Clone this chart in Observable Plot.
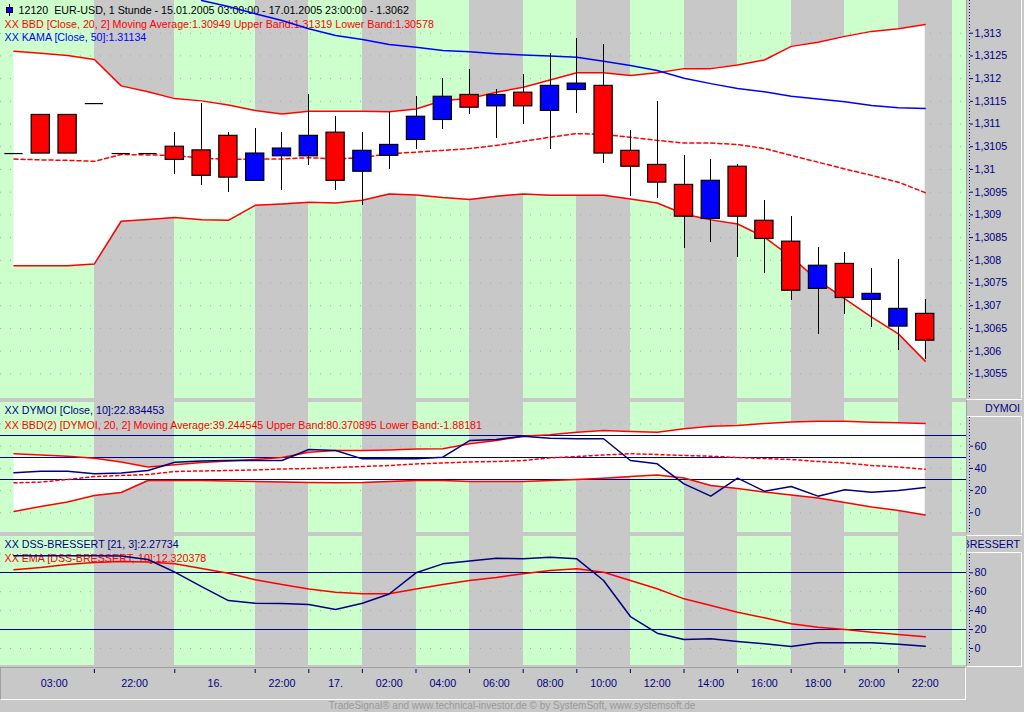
<!DOCTYPE html>
<html><head><meta charset="utf-8">
<script src="https://cdn.jsdelivr.net/npm/d3@7"></script>
<script src="https://cdn.jsdelivr.net/npm/@observablehq/plot@0.6"></script>
<style>
html,body{margin:0;padding:0;background:#c8c8c8;}
#root{position:relative;width:1024px;height:712px;overflow:hidden;background:#c8c8c8;font-family:"Liberation Sans",Arial,sans-serif;}
.abs{position:absolute;}
.box{position:absolute;box-sizing:border-box;}
.lab{position:absolute;box-sizing:border-box;display:flex;justify-content:flex-end;align-items:center;overflow:hidden;white-space:nowrap;background:#c8c8c8;color:#000080;font-size:10.7px;padding-right:2px;border-top:1px solid #fff;border-bottom:1px solid #fff;}
svg{display:block;}
</style></head>
<body><div id="root">
  <div class="box" style="left:966px;top:0;width:56px;height:398px;border-left:1px solid #a0a0a0;border-right:1px solid #fff;"></div>
  <div class="box" style="left:966px;top:399px;width:56px;height:134px;border-left:1px solid #a0a0a0;border-right:1px solid #fff;border-top:1px solid #fff;"></div>
  <div class="box" style="left:966px;top:535px;width:56px;height:132px;border-left:1px solid #a0a0a0;border-right:1px solid #fff;border-top:1px solid #fff;border-bottom:1px solid #fff;"></div>
  <div class="box" style="left:0;top:667px;width:966px;height:33px;border-top:1px solid #a0a0a0;border-left:1px solid #a0a0a0;border-right:1px solid #fff;border-bottom:1px solid #fff;"></div>
  <div id="p-main" class="abs" style="left:0;top:0"></div>
  <div id="p-dy" class="abs" style="left:0;top:402px"></div>
  <div id="p-dss" class="abs" style="left:0;top:536px"></div>
  <div class="abs" style="left:9px;top:4px;width:1px;height:12px;background:#000"></div>
  <div class="abs" style="left:6px;top:7px;width:7px;height:6px;background:#0000ff;border:1px solid #000;box-sizing:border-box"></div>
  <div class="lab" style="left:967px;top:399px;width:55px;height:18px;">DYMOI</div>
  <div class="lab" style="left:967px;top:535px;width:55px;height:18px;">DSS-BRESSERT</div>
  <div id="footer" class="abs" style="left:0;top:700px;width:1024px;height:12px;line-height:12px;text-align:center;font-size:10px;color:#999;"></div>
</div>
<script>
// ---------- data (hourly EUR-USD candles, index 0..34) ----------
const open  = [1.31035,1.3112,1.3112,1.31145,1.31035,1.31035,1.3105,1.31042,1.31074,1.30975,1.31029,1.31029,1.31081,1.30995,1.3103,1.31065,1.31109,1.31164,1.31139,1.31169,1.31129,1.31175,1.31184,1.31041,1.3101,1.30966,1.30891,1.31006,1.30887,1.30841,1.30737,1.30792,1.30713,1.30654,1.30682];
const high  = [1.31035,1.3112,1.3112,1.31145,1.31035,1.31035,1.31082,1.31146,1.31081,1.3109,1.31081,1.31166,1.31116,1.31081,1.31125,1.31161,1.312,1.31219,1.31175,1.31209,1.31255,1.31288,1.31275,1.31086,1.3115,1.31031,1.31022,1.3101,1.30932,1.30896,1.30828,1.30817,1.30782,1.30802,1.30714];
const low   = [1.31035,1.31035,1.31035,1.31145,1.31035,1.31035,1.30989,1.30965,1.3095,1.30975,1.30954,1.31009,1.30954,1.3092,1.31001,1.31045,1.31089,1.3112,1.31069,1.311,1.31045,1.31124,1.31014,1.30941,1.30935,1.30827,1.3084,1.30807,1.30772,1.30712,1.30637,1.30681,1.30653,1.30602,1.30581];
const close = [1.31035,1.31035,1.31035,1.31145,1.31035,1.31035,1.31021,1.30986,1.30982,1.31035,1.31046,1.31074,1.30975,1.31041,1.31054,1.31116,1.3116,1.31136,1.31164,1.31139,1.31184,1.31189,1.31035,1.31006,1.30971,1.30896,1.30975,1.30896,1.30847,1.30733,1.30788,1.30717,1.30726,1.30693,1.30623];

const bbUpper  = [1.3126,1.31256,1.31251,1.31242,1.31184,1.31171,1.31156,1.31151,1.31142,1.3113,1.31122,1.31128,1.31128,1.31128,1.31127,1.31133,1.31152,1.31156,1.3117,1.31181,1.31197,1.31213,1.31213,1.31207,1.31213,1.31222,1.31222,1.3123,1.31241,1.31271,1.3128,1.31293,1.31304,1.3131,1.31319];
const bbMiddle = [1.31023,1.31021,1.3102,1.31018,1.31033,1.31032,1.31031,1.31025,1.31022,1.31023,1.31023,1.31026,1.31023,1.31026,1.31035,1.31038,1.31042,1.31046,1.31053,1.31062,1.31071,1.31079,1.31077,1.31071,1.31064,1.31058,1.31058,1.31055,1.31046,1.31031,1.31016,1.31001,1.30987,1.30972,1.30949];
const bbLower  = [1.30788,1.30788,1.30788,1.30792,1.30886,1.3089,1.30894,1.30889,1.30888,1.30921,1.30924,1.30928,1.30926,1.30932,1.30946,1.30944,1.30938,1.30934,1.30941,1.30946,1.30943,1.30943,1.30943,1.30935,1.30926,1.30902,1.30889,1.3088,1.30851,1.30807,1.30756,1.30715,1.30675,1.30638,1.30578];
const kama     = [null,null,null,null,null,null,null,1.31372,1.31359,1.31343,1.31328,1.3131,1.31295,1.31286,1.31275,1.31269,1.31262,1.31259,1.31255,1.31252,1.3125,1.31247,1.31238,1.31229,1.31218,1.31201,1.31189,1.31178,1.31171,1.31161,1.31155,1.31149,1.31141,1.31136,1.31134];

const dymoi       = [36,37.5,37.5,35.1,35.9,38.1,45.6,46.7,47.1,47.1,47.1,57,56.1,48.6,48.6,48.6,50.1,65.1,66,69,67.2,66.7,66.7,47.1,44.1,26.1,15,31.2,19.5,23.7,15,20.7,18.6,20.1,22.83];
const dymoiUpper  = [53.2,52.1,51,49.2,45.8,41.3,43.2,45.3,46.7,48,49.8,54.5,56.1,56.1,56.6,57.5,57.7,62.2,65.1,69,70.3,72.6,74.1,73.2,72.6,75.7,78,78.6,80.5,81.8,82.5,82.5,81.6,81.1,80.37];
const dymoiMiddle = [27,27.7,30,32.7,33.6,34.5,37.2,37.7,38.1,38.6,39.5,39.9,40.8,41.7,42.6,44,44.9,45.8,46.2,47.1,49.5,50.7,52.1,53.2,52.5,51.6,51,49.8,48.9,48,46.2,44.9,42.6,41.3,39.24];
const dymoiLower  = [1.2,5.7,9.7,15.6,18.3,29.1,29.1,29.1,28.6,28.2,27.7,27.3,27,27.3,28.2,29.1,29.1,28.2,28.2,28.2,29.1,30,31.2,32.7,34.1,31.4,24.6,21.9,18.7,16,13.3,9.3,5.2,2.1,-1.88];

const dss    = [98,98,98,98,97.8,94.1,80.7,65.5,50.7,47.9,47.6,46.5,41.2,47.9,57.6,80,89.5,92.5,95.5,94.8,96.5,94.8,71.9,33.8,16.2,9.5,10.3,7.4,5,2.1,6,6,6,4.5,2.28];
const dssEma = [83.2,85.6,88.8,90.9,92,91.4,89.5,84.6,79.6,72.6,67.7,63,59.4,57.8,57.8,63,67.7,71.9,75.1,79,82.5,84.2,80.7,71.9,63.1,52.5,45.5,38.4,32.5,26.1,22.5,20.1,17.2,14.8,12.32];

// session boundaries (candle index) and time labels
const sessionBreaks = [3,6,9,11,13,15,17,19,21,23,25,27,29,31,33,35];
const timeLabels = ["03:00","22:00","16.","22:00","17.","02:00","04:00","06:00","08:00","10:00","12:00","14:00","16:00","18:00","20:00","22:00"];

// axis ticks
const priceTicks = [1.3055,1.306,1.3065,1.307,1.3075,1.308,1.3085,1.309,1.3095,1.31,1.3105,1.311,1.3115,1.312,1.3125,1.313];
const dymoiTicks = [0,20,40,60];
const dymoiGrid = [0,20,40,60,80];
const dymoiLevels = [30,50,70];
const dssTicks = [0,20,40,60,80];
const dssGrid = [0,20,40,60,80,100];
const dssLevels = [20,80];

// legend texts
const legendMain = [
  "12120\u00a0\u00a0EUR-USD, 1 Stunde - 15.01.2005 03:00:00 - 17.01.2005 23:00:00 - 1.3062",
  "XX BBD [Close, 20, 2] Moving Average:1.30949 Upper Band:1.31319 Lower Band:1.30578",
  "XX KAMA [Close, 50]:1.31134"
];
const legendDymoi = [
  "XX DYMOI [Close, 10]:22.834453",
  "XX BBD(2) [DYMOI, 20, 2] Moving Average:39.244545 Upper Band:80.370895 Lower Band:-1.88181"
];
const legendDss = [
  "XX DSS-BRESSERT [21, 3]:2.27734",
  "XX EMA [DSS-BRESSERT, 10]:12.320378"
];
const footerText = "TradeSignal\u00ae and www.technical-investor.de \u00a9 by  SystemSoft, www.systemsoft.de";

// ---------- styling ----------
const NAVY = "#000080", RED = "#ff0000", BLUE = "#0000ff", GREEN = "#ccffcc", GRID = "#a8a8a8";
const FONT = '"Liberation Sans", Arial, sans-serif';
const FS = 10.7;
const X_DOMAIN = [-0.5037, 35.541];
const HALF = 0.34;

const rows = close.map((c, i) => ({
  i, open: open[i], high: high[i], low: low[i], close: c,
  up: bbUpper[i], mid: bbMiddle[i], lo: bbLower[i], kama: kama[i],
  dymoi: dymoi[i], dyUp: dymoiUpper[i], dyMid: dymoiMiddle[i], dyLo: dymoiLower[i],
  dss: dss[i], ema: dssEma[i]
}));

const edges = [X_DOMAIN[0], ...sessionBreaks, X_DOMAIN[1]];
const greenBands = d3.range(0, edges.length - 1, 2).map(k => ({x1: edges[k], x2: edges[k + 1]}));
const sessionStarts = [0, ...sessionBreaks];
const labelPos = timeLabels.map((_, k) => (sessionStarts[k] + sessionStarts[k + 1]) / 2);
const labelMap = new Map(labelPos.map((p, k) => [p, timeLabels[k]]));
const fmtPrice = d => String(+d.toFixed(4)).replace(".", ",");

function legend(lines, colors, x0, ys) {
  return lines.map((t, k) => Plot.text([t], {
    text: d => d, frameAnchor: "top-left", dx: k === 0 ? x0 : 4, dy: ys[k],
    textAnchor: "start", lineAnchor: "middle", fill: colors[k], fontSize: FS
  }));
}
function bands() { return Plot.rect(greenBands, {x1: "x1", x2: "x2", fill: GREEN, shapeRendering: "crispEdges"}); }
function rightAxis(ticks, fmt) {
  return [
    Plot.axisY(ticks, {anchor: "right", tickSize: 3, tickPadding: 2, dx: 3, tickFormat: fmt, color: NAVY, fontSize: FS}),
    Plot.ruleX([X_DOMAIN[1]], {dx: 3, stroke: NAVY, strokeDasharray: "1,2"})
  ];
}
function panel({height, marginBottom = 0, yDomain, xAxis = false, marks}) {
  return Plot.plot({
    width: 1024, height, marginLeft: 0, marginRight: 58, marginTop: 0, marginBottom,
    x: xAxis ? {type: "linear", domain: X_DOMAIN} : {type: "linear", domain: X_DOMAIN, axis: null},
    y: {type: "linear", domain: yDomain, axis: null},
    style: {background: "transparent", fontFamily: FONT, fontSize: FS + "px", color: NAVY, overflow: "visible"},
    marks
  });
}

// ---------- main price panel ----------
const mainPlot = panel({height: 398, yDomain: [1.304957, 1.31372], marks: [
  bands(),
  Plot.ruleY(priceTicks, {stroke: GRID, strokeDasharray: "1,9"}),
  Plot.areaY(rows, {x: "i", y1: "lo", y2: "up", fill: "white"}),
  ...legend(legendMain, ["black", RED, BLUE], 18, [9.7, 24.5, 37]),
  Plot.line(rows, {x: "i", y: "up", stroke: RED}),
  Plot.line(rows, {x: "i", y: "lo", stroke: RED}),
  Plot.line(rows, {x: "i", y: "mid", stroke: RED, strokeDasharray: "4,3"}),
  Plot.line(rows, {x: "i", y: "kama", stroke: BLUE, clip: true}),
  Plot.ruleX(rows.filter(d => d.high > d.low), {x: "i", y1: "low", y2: "high", stroke: "black", shapeRendering: "crispEdges"}),
  Plot.rect(rows.filter(d => d.close < d.open), {x1: d => d.i - HALF, x2: d => d.i + HALF, y1: "close", y2: "open", fill: RED, stroke: "black", strokeWidth: 1.2}),
  Plot.rect(rows.filter(d => d.close > d.open), {x1: d => d.i - HALF, x2: d => d.i + HALF, y1: "open", y2: "close", fill: BLUE, stroke: "black", strokeWidth: 1.2}),
  Plot.ruleY(rows.filter(d => d.close === d.open), {y: "close", x1: d => d.i - HALF, x2: d => d.i + HALF, stroke: "black", strokeWidth: 1.2}),
  ...rightAxis(priceTicks, fmtPrice)
]});
document.getElementById("p-main").append(mainPlot);

// ---------- DYMOI panel ----------
const dyPlot = panel({height: 130, yDomain: [-17.75, 99.37], marks: [
  bands(),
  Plot.ruleY(dymoiGrid, {stroke: GRID, strokeDasharray: "1,9"}),
  Plot.areaY(rows, {x: "i", y1: "dyLo", y2: "dyUp", fill: "white"}),
  ...legend(legendDymoi, [NAVY, RED], 4, [8.5, 23.2]),
  Plot.ruleY(dymoiLevels, {stroke: NAVY, shapeRendering: "crispEdges"}),
  Plot.line(rows, {x: "i", y: "dyUp", stroke: RED}),
  Plot.line(rows, {x: "i", y: "dyLo", stroke: RED}),
  Plot.line(rows, {x: "i", y: "dyMid", stroke: RED, strokeDasharray: "3,3"}),
  Plot.line(rows, {x: "i", y: "dymoi", stroke: NAVY}),
  ...rightAxis(dymoiTicks, d => String(d))
]});
document.getElementById("p-dy").append(dyPlot);

// ---------- DSS-Bressert panel + time axis ----------
const dssPlot = panel({height: 163, marginBottom: 34, yDomain: [-17.97, 118.4], xAxis: true, marks: [
  bands(),
  Plot.ruleY(dssGrid, {stroke: GRID, strokeDasharray: "1,9"}),
  ...legend(legendDss, [NAVY, RED], 4, [7.8, 21.7]),
  Plot.ruleY(dssLevels, {stroke: NAVY, shapeRendering: "crispEdges"}),
  Plot.line(rows, {x: "i", y: "ema", stroke: RED}),
  Plot.line(rows, {x: "i", y: "dss", stroke: NAVY}),
  ...rightAxis(dssTicks, d => String(d)),
  Plot.axisX(sessionBreaks.slice(0, -1), {anchor: "bottom", tickSize: 4, dy: 4, tickFormat: () => "", color: NAVY}),
  Plot.axisX(labelPos, {anchor: "bottom", tickSize: 0, tickPadding: 13.8, tickFormat: d => labelMap.get(d), color: NAVY, fontSize: FS})
]});
document.getElementById("p-dss").append(dssPlot);

document.getElementById("footer").textContent = footerText;
</script>
</body></html>
